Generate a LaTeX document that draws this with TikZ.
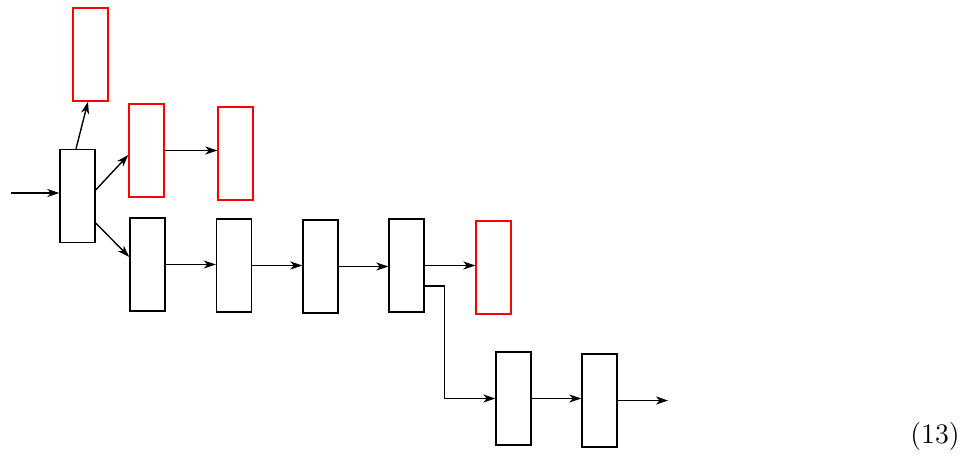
\documentclass[tikz,border=0pt]{standalone}
\usetikzlibrary{arrows.meta,calc}
\begin{document}
\begin{tikzpicture}[x=0.4pt,y=-0.4pt,
  blk/.style={draw=black,line width=0.55pt,minimum width=14pt,minimum height=37.2pt,inner sep=0pt},
  redblk/.style={blk,draw=red},
  arr/.style={-{Stealth[length=4.8pt,width=3.2pt,inset=1.4pt]},line width=0.55pt}]
\useasboundingbox (0,0) rectangle (974,455);
\node[blk] (A) at (77.5,196) {};
\node[redblk] (R1) at (90.5,54.5) {};
\node[redblk] (R2) at (146.5,150.5) {};
\node[redblk] (R3) at (235.5,153.5) {};
\node[blk] (B1) at (147.5,264.5) {};
\node[blk] (B2) at (234,265.5) {};
\node[blk] (B3) at (320.5,266.5) {};
\node[blk] (B4) at (406.5,265.5) {};
\node[redblk] (R4) at (493.5,267.5) {};
\node[blk] (B5) at (513.5,398.5) {};
\node[blk] (B6) at (599.5,400.5) {};
\coordinate (in) at (11,193);
\coordinate (out) at (668,401);
\node[font=\fontsize{11.3}{13}\selectfont] (eq) at (935,436.5) {(13)};
\draw[arr] (in) -- (in -| A.west);
\draw[arr] ($(A.north)+(-1.5,0)$) -- ($(R1.south)+(-2.5,0)$);
\draw[arr] ($(A.east)+(0,-6)$) -- ($(R2.west)+(0,4.5)$);
\draw[arr] ($(A.east)+(0,27)$) -- ($(B1.west)+(0,-7.5)$);
\draw[arr] (R2.east) -- (R2.east -| R3.west);
\draw[arr] (B1.east) -- (B1.east -| B2.west);
\draw[arr] (B2.east) -- (B2.east -| B3.west);
\draw[arr] (B3.east) -- (B3.east -| B4.west);
\draw[arr] (B4.east) -- (B4.east -| R4.west);
\draw[arr] ($(B4.east)+(0,20.5)$) -- ++(20,0) |- (B5.west);
\draw[arr] (B5.east) -- (B5.east -| B6.west);
\draw[arr] (B6.east) -- (B6.east -| out);
\end{tikzpicture}
\end{document}
